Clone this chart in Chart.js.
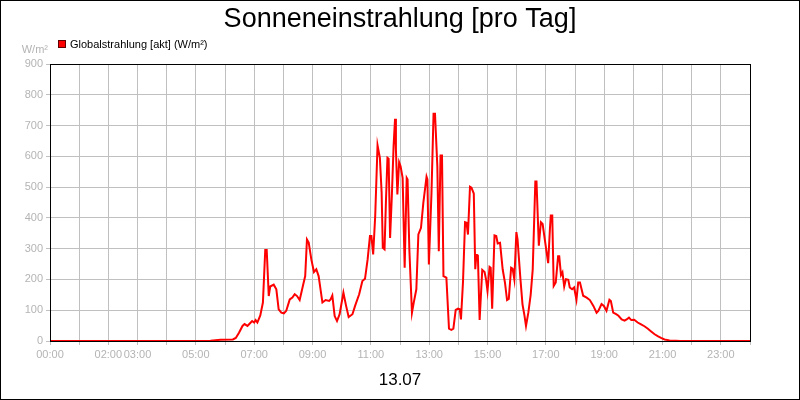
<!DOCTYPE html>
<html>
<head>
<meta charset="utf-8">
<script src="https://cdn.jsdelivr.net/npm/chart.js@4"></script>
<style>
  html, body { margin: 0; padding: 0; background: #fff; }
  canvas { display: block; }
</style>
</head>
<body>
<canvas id="chart" width="800" height="400"></canvas>
<script>
// time of day in hours
const hours = [
  0, 5.0, 5.5, 5.85, 6.27, 6.37, 6.48, 6.6, 6.67, 6.77, 6.85, 6.93, 7.0, 7.05, 7.11, 7.21, 7.3, 7.38, 7.43,
  7.5, 7.55, 7.67, 7.76, 7.84, 7.93, 8.02, 8.1, 8.22, 8.31, 8.39, 8.47, 8.56, 8.67, 8.75, 8.81, 8.87, 8.96,
  9.05, 9.13, 9.21, 9.34, 9.45, 9.57, 9.62, 9.68, 9.76, 9.84, 9.93, 10.06, 10.15, 10.24, 10.37, 10.46, 10.6,
  10.71, 10.8, 10.89, 10.97, 11.02, 11.08, 11.15, 11.23, 11.31, 11.37, 11.41, 11.47, 11.52, 11.57, 11.61,
  11.66, 11.72, 11.78, 11.83, 11.86, 11.91, 11.97, 12.02, 12.09, 12.16, 12.23, 12.26, 12.32, 12.41, 12.47,
  12.56, 12.63, 12.72, 12.8, 12.91, 12.94, 12.99, 13.08, 13.15, 13.2, 13.28, 13.33, 13.39, 13.44, 13.49,
  13.59, 13.68, 13.76, 13.83, 13.91, 13.99, 14.05, 14.09, 14.16, 14.23, 14.28, 14.33, 14.4, 14.45, 14.53,
  14.58, 14.62, 14.67, 14.73, 14.82, 14.9, 14.95, 15.0, 15.07, 15.11, 15.16, 15.24, 15.3, 15.35, 15.43,
  15.52, 15.6, 15.67, 15.73, 15.81, 15.86, 15.92, 15.99, 16.03, 16.13, 16.2, 16.26, 16.32, 16.4, 16.48,
  16.55, 16.64, 16.68, 16.76, 16.83, 16.89, 16.97, 17.08, 17.14, 17.17, 17.22, 17.27, 17.34, 17.42, 17.46,
  17.52, 17.57, 17.63, 17.69, 17.77, 17.82, 17.9, 17.97, 18.05, 18.11, 18.17, 18.28, 18.4, 18.51, 18.63,
  18.74, 18.8, 18.91, 18.99, 19.08, 19.18, 19.23, 19.31, 19.41, 19.49, 19.6, 19.7, 19.77, 19.85, 19.93,
  20.03, 20.15, 20.25, 20.38, 20.5, 20.6, 20.73, 20.85, 20.95, 21.07, 21.24, 21.46, 21.6, 24
];
// Globalstrahlung in W/m²
const radiation = [
  0, 0, 1, 4, 5, 10, 27, 49, 55, 49, 57, 65, 60, 68, 60, 83, 125, 296, 296,
  146, 177, 183, 168, 103, 92, 90, 98, 135, 141, 152, 146, 133, 179, 211, 330, 320, 265,
  224, 233, 211, 125, 133, 130, 135, 148, 81, 65, 87, 157, 115, 78, 87, 114, 152,
  195, 202, 265, 341, 341, 281, 406, 636, 595, 482, 303, 298, 460, 595, 592,
  335, 471, 633, 722, 622, 476, 581, 568, 530, 238, 530, 525, 298, 92, 124,
  168, 346, 368, 449, 534, 525, 249, 482, 738, 738, 568, 292, 603, 603, 211,
  206, 40, 36, 40, 101, 105, 103, 70, 192, 386, 384, 346, 501, 498, 479,
  233, 281, 278, 68, 231, 224, 200, 162, 241, 238, 105, 343, 341, 317, 319,
  233, 189, 133, 137, 238, 235, 200, 354, 330, 200, 119, 87, 49, 92, 150,
  232, 518, 518, 310, 386, 380, 326, 253, 364, 408, 408, 179, 190, 275, 275,
  214, 223, 177, 201, 199, 174, 168, 174, 134, 190, 190, 147, 141, 133, 114,
  92, 98, 120, 114, 98, 134, 130, 92, 87, 82, 70, 66, 70, 76, 68,
  69, 60, 55, 48, 40, 32, 22, 15, 10, 5, 2, 1, 0, 0
];
// hours that carry a label on the x axis
const labelledHours = [0, 2, 3, 5, 7, 9, 11, 13, 15, 17, 19, 21, 23];
const yTicks = [0, 100, 200, 300, 400, 500, 600, 700, 800, 900];

const FONT = "'Liberation Sans', Arial, sans-serif";
const gridColor = '#c0c0c0';
const tickColor = '#b4b4b4';

const pad = n => (n < 10 ? '0' : '') + n;

const decorations = {
    id: 'decorations',
    beforeDraw(chart) {
        const ctx = chart.ctx;
        ctx.save();
        ctx.fillStyle = '#ffffff';
        ctx.fillRect(0, 0, chart.width, chart.height);
        ctx.restore();
    },
    afterDraw(chart) {
        const ctx = chart.ctx;
        const a = chart.chartArea;
        ctx.save();
        // plot frame
        ctx.strokeStyle = '#000';
        ctx.lineWidth = 1;
        ctx.strokeRect(Math.round(a.left) + 0.5, Math.round(a.top) + 0.5,
            Math.round(a.right - a.left), Math.round(a.bottom - a.top));
        // outer border
        ctx.strokeRect(0.5, 0.5, chart.width - 1, chart.height - 1);

        // title
        ctx.fillStyle = '#000';
        ctx.textAlign = 'center';
        ctx.textBaseline = 'alphabetic';
        ctx.font = '27px ' + FONT;
        ctx.fillText('Sonneneinstrahlung [pro Tag]', 400, 27);

        // date under the axis
        ctx.font = '17px ' + FONT;
        ctx.fillText('13.07', 400, 385);

        // unit
        ctx.fillStyle = tickColor;
        ctx.textAlign = 'right';
        ctx.font = '11px ' + FONT;
        ctx.fillText('W/m²', 48, 53);

        // legend
        ctx.fillStyle = '#ff0000';
        ctx.fillRect(58, 40, 8, 8);
        ctx.strokeStyle = '#600000';
        ctx.strokeRect(58.5, 40.5, 7, 7);
        ctx.fillStyle = '#000';
        ctx.textAlign = 'left';
        ctx.fillText('Globalstrahlung [akt] (W/m²)', 70, 48);
        ctx.restore();
    }
};

new Chart(document.getElementById('chart'), {
    type: 'line',
    data: {
        datasets: [{
            label: 'Globalstrahlung [akt] (W/m²)',
            data: hours.map((h, i) => ({ x: h, y: radiation[i] })),
            borderColor: '#ff0000',
            backgroundColor: '#ff0000',
            borderWidth: 2,
            pointRadius: 0,
            tension: 0,
            fill: false,
        }],
    },
    options: {
        responsive: false,
        animation: false,
        devicePixelRatio: 1,
        layout: { padding: { top: 64, right: 50, bottom: 0, left: 0 } },
        plugins: {
            legend: { display: false },
            title: { display: false },
            tooltip: { enabled: false },
        },
        scales: {
            x: {
                type: 'linear',
                min: 0,
                max: 24,
                afterFit: s => { s.height = 59; },
                afterBuildTicks: s => { s.ticks = Array.from({ length: 25 }, (_, i) => ({ value: i })); },
                grid: { color: gridColor, tickLength: 4, drawTicks: true },
                border: { color: '#000', width: 1 },
                ticks: {
                    autoSkip: false,
                    maxRotation: 0,
                    padding: 3,
                    color: tickColor,
                    font: { family: FONT, size: 11 },
                    callback: v => labelledHours.includes(v) ? pad(v) + ':00' : '',
                },
            },
            y: {
                min: 0,
                max: 900,
                afterFit: s => { s.width = 50; },
                afterBuildTicks: s => { s.ticks = yTicks.map(v => ({ value: v })); },
                grid: { color: gridColor, tickLength: 4, drawTicks: true },
                border: { color: '#000', width: 1 },
                ticks: {
                    padding: 3,
                    color: tickColor,
                    font: { family: FONT, size: 11 },
                },
            },
        },
    },
    plugins: [decorations],
});
</script>
</body>
</html>
